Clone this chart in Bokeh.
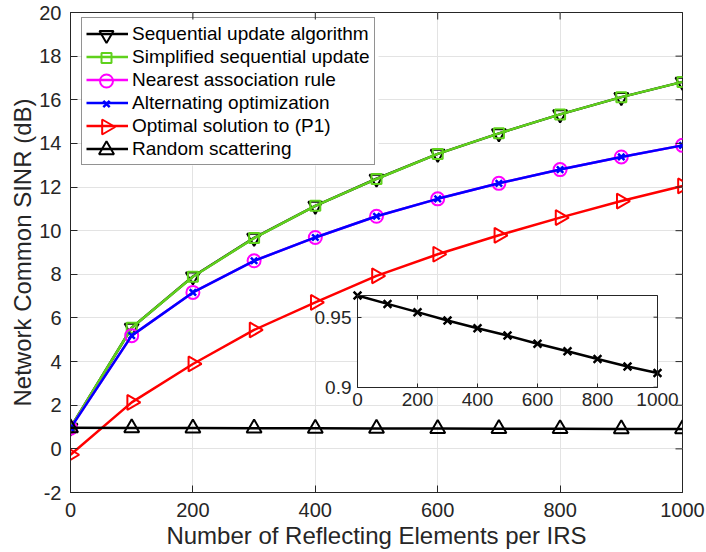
import numpy as np
from bokeh.plotting import figure
from bokeh.models import Range1d, LinearAxis, FixedTicker, Legend, LegendItem
from bokeh.embed import file_html
from bokeh.resources import INLINE

# ---------------- data ----------------
N = [0, 100, 200, 300, 400, 500, 600, 700, 800, 900, 1000]
seq_update = [0.97, 5.55, 7.90, 9.67, 11.14, 12.38, 13.52, 14.46, 15.33, 16.12, 16.82]
simplified_seq = [0.97, 5.55, 7.89, 9.66, 11.14, 12.37, 13.52, 14.46, 15.33, 16.12, 16.82]
nearest_assoc = [0.95, 5.19, 7.17, 8.62, 9.69, 10.66, 11.46, 12.17, 12.80, 13.38, 13.91]
alternating_opt = [0.95, 5.19, 7.17, 8.62, 9.69, 10.66, 11.46, 12.17, 12.80, 13.38, 13.91]
optimal_p1 = [-0.27, 2.13, 3.89, 5.45, 6.71, 7.93, 8.92, 9.79, 10.60, 11.36, 12.05]
random_scatter = [0.9655, 0.9595, 0.9536, 0.9476, 0.9421, 0.9369, 0.9310, 0.9257, 0.9202, 0.9148, 0.9102]

x_ticks = [0, 200, 400, 600, 800, 1000]
y_ticks = [-2, 0, 2, 4, 6, 8, 10, 12, 14, 16, 18, 20]
x_lim = [0, 1000]
y_lim = [-2, 20]
inset_x_ticks = [0, 200, 400, 600, 800, 1000]
inset_y_ticks = [0.9, 0.95]
inset_x_lim = [0, 1000]
inset_y_lim = [0.9, 0.9655]

labels = ["Sequential update algorithm", "Simplified sequential update",
          "Nearest association rule", "Alternating optimization",
          "Optimal solution to (P1)", "Random scattering"]

FONT = "Liberation Sans"
AX = "#262626"
GRID = "#e3e3e3"
GREEN = "#5fd11c"

# series styles: (values, color, marker, size, angle)
styles = [
    (seq_update, "black", "inverted_triangle", 14, 0.0),
    (simplified_seq, GREEN, "square", 10, 0.0),
    (nearest_assoc, "#ff00ff", "circle", 13, 0.0),
    (alternating_opt, "#0000ff", "x", 9, 0.0),
    (optimal_p1, "#ff0000", "triangle", 15, -np.pi / 2),
    (random_scatter, "black", "triangle", 15, 0.0),
]

FW, FH = 612, 480          # frame size in px
TOP, LEFT = 12, 70

# ---------------- figure ----------------
p = figure(width=706, height=552, x_range=Range1d(*x_lim), y_range=Range1d(*y_lim),
           output_backend="svg", toolbar_location=None,
           min_border_left=LEFT, min_border_right=706 - LEFT - FW,
           min_border_top=TOP, min_border_bottom=552 - TOP - FH)
p.background_fill_color = "white"
p.border_fill_color = "white"
p.outline_line_color = AX
p.outline_line_width = 1

xa = p.xaxis[0]
ya = p.yaxis[0]
for ax in (xa, ya):
    ax.major_tick_in = 7
    ax.major_tick_out = 0
    ax.minor_tick_line_color = None
    ax.axis_line_color = AX
    ax.major_tick_line_color = AX
    ax.major_label_text_font = FONT
    ax.major_label_text_font_size = "20px"
    ax.major_label_text_color = AX
    ax.major_label_text_line_height = 1.0
    ax.axis_label_text_font = FONT
    ax.axis_label_text_font_size = "24px"
    ax.axis_label_text_font_style = "normal"
    ax.axis_label_text_color = AX
    ax.axis_label_text_line_height = 1.0
xa.ticker = FixedTicker(ticks=x_ticks)
ya.ticker = FixedTicker(ticks=y_ticks)
ya.major_label_overrides = {t: str(t) for t in y_ticks}
xa.axis_label = "Number of Reflecting Elements per IRS"
ya.axis_label = "Network Common SINR (dB)"
xa.major_label_standoff = 10
xa.axis_label_standoff = 2
ya.major_label_standoff = 9
ya.axis_label_standoff = 0

p.xgrid[0].ticker = FixedTicker(ticks=x_ticks)
p.ygrid[0].ticker = FixedTicker(ticks=y_ticks)
for g in (p.xgrid[0], p.ygrid[0]):
    g.grid_line_color = GRID
    g.grid_line_width = 1

# inward ticks on top and right edges of the main box
tlen_y = 7 * (y_lim[1] - y_lim[0]) / FH
tlen_x = 7 * (x_lim[1] - x_lim[0]) / FW
p.segment(x0=x_ticks, x1=x_ticks, y0=[y_lim[1]] * len(x_ticks), y1=[y_lim[1] - tlen_y] * len(x_ticks),
          line_color=AX, line_width=1, level="guide")
p.segment(x0=[x_lim[1]] * len(y_ticks), x1=[x_lim[1] - tlen_x] * len(y_ticks), y0=y_ticks, y1=y_ticks,
          line_color=AX, line_width=1, level="guide")

# ---------------- extra ranges: inset + frame pixels ----------------
fx0, fx1 = 287 / FW, 587 / FW          # inset box as fraction of frame width
fy0, fy1 = 105.3 / FH, 197 / FH        # inset box as fraction of frame height
sx = (inset_x_lim[1] - inset_x_lim[0]) / (fx1 - fx0)
sy = (inset_y_lim[1] - inset_y_lim[0]) / (fy1 - fy0)
ix0 = inset_x_lim[0] - fx0 * sx
iy0 = inset_y_lim[0] - fy0 * sy
p.extra_x_ranges = {"ix": Range1d(ix0, ix0 + sx), "px": Range1d(0, FW)}
p.extra_y_ranges = {"iy": Range1d(iy0, iy0 + sy), "py": Range1d(0, FH)}

# ---------------- legend background (drawn before markers) ----------------
PAD, ROW, GW, LX, LT, LW_BOX = 4, 23, 42, 11, 7, 297
leg_h = 2 * PAD + len(labels) * ROW
p.quad(left=[LX], right=[LX + LW_BOX], bottom=[FH - LT - leg_h], top=[FH - LT],
       x_range_name="px", y_range_name="py", fill_color="white", line_color=None)

# ---------------- main series ----------------
LW = 2.5
line_rs = []
for vals, col, mk, sz, ang in styles:
    lr = p.line(N, vals, line_color=col, line_width=LW)
    if mk == "x":
        p.scatter(N, vals, marker=mk, size=sz, line_color=col, line_width=2.5)
    else:
        p.scatter(N, vals, marker=mk, size=sz, angle=ang, fill_color=None,
                  line_color=col, line_width=2)
    line_rs.append(lr)

# legend markers placed in the legend glyph slots (frame-pixel coordinates)
mx = [LX + PAD + GW / 2] * len(labels)
my = [FH - LT - PAD - ROW * (i + 0.5) for i in range(len(labels))]
for (vals, col, mk, sz, ang), x_, y_ in zip(styles, mx, my):
    if mk == "x":
        p.scatter([x_], [y_], marker=mk, size=sz, line_color=col, line_width=2.5,
                  x_range_name="px", y_range_name="py")
    else:
        p.scatter([x_], [y_], marker=mk, size=sz, angle=ang, fill_color=None, line_color=col,
                  line_width=2, x_range_name="px", y_range_name="py")

# ---------------- inset ----------------
p.quad(left=[inset_x_lim[0]], right=[inset_x_lim[1]], bottom=[inset_y_lim[0]], top=[inset_y_lim[1]],
       x_range_name="ix", y_range_name="iy", fill_color="white", line_color=None)
gx = inset_x_ticks[1:-1]
p.segment(x0=gx, x1=gx, y0=[inset_y_lim[0]] * len(gx), y1=[inset_y_lim[1]] * len(gx),
          x_range_name="ix", y_range_name="iy", line_color=GRID, line_width=1)
gy = [t for t in inset_y_ticks if inset_y_lim[0] < t < inset_y_lim[1]]
p.segment(x0=[inset_x_lim[0]] * len(gy), x1=[inset_x_lim[1]] * len(gy), y0=gy, y1=gy,
          x_range_name="ix", y_range_name="iy", line_color=GRID, line_width=1)
p.line(N, random_scatter, x_range_name="ix", y_range_name="iy", line_color="black", line_width=LW)
p.scatter(N, random_scatter, x_range_name="ix", y_range_name="iy", marker="x", size=11,
          line_color="black", line_width=2.5)

# inset top/right inward ticks
itl_y = 4 * sy / FH
itl_x = 4 * sx / FW
p.segment(x0=inset_x_ticks, x1=inset_x_ticks, y0=[inset_y_lim[1]] * len(inset_x_ticks),
          y1=[inset_y_lim[1] - itl_y] * len(inset_x_ticks), x_range_name="ix", y_range_name="iy",
          line_color=AX, line_width=1, level="guide")
p.segment(x0=[inset_x_lim[1]] * len(inset_y_ticks), x1=[inset_x_lim[1] - itl_x] * len(inset_y_ticks),
          y0=inset_y_ticks, y1=inset_y_ticks, x_range_name="ix", y_range_name="iy",
          line_color=AX, line_width=1, level="guide")

def inset_axis(loc, bounds, ticks, overrides=None):
    a = LinearAxis(x_range_name="ix", y_range_name="iy", fixed_location=loc, bounds=bounds,
                   ticker=FixedTicker(ticks=ticks), major_tick_in=4, major_tick_out=0,
                   minor_tick_line_color=None, axis_line_color=AX, major_tick_line_color=AX,
                   major_label_text_font=FONT, major_label_text_color=AX,
                   major_label_text_font_size="19px", major_label_standoff=6)
    if overrides:
        a.major_label_overrides = overrides
    return a

p.add_layout(inset_axis(inset_y_lim[0], tuple(inset_x_lim), inset_x_ticks), "below")
p.add_layout(inset_axis(inset_y_lim[1], tuple(inset_x_lim), []), "above")
p.add_layout(inset_axis(inset_x_lim[0], tuple(inset_y_lim), inset_y_ticks,
                        {0.9: "0.9", 0.95: "0.95"}), "left")
p.add_layout(inset_axis(inset_x_lim[1], tuple(inset_y_lim), []), "right")

# ---------------- legend ----------------
items = [LegendItem(label=lab, renderers=[l]) for lab, l in zip(labels, line_rs)]
legend = Legend(items=items, location=(LX, FH - LT - leg_h),
                glyph_width=GW, glyph_height=ROW, label_height=ROW, spacing=0,
                padding=PAD, margin=0, label_standoff=4,
                label_text_font=FONT, label_text_font_size="19px", label_text_color="black",
                border_line_color=AX, border_line_width=1,
                background_fill_color=None, background_fill_alpha=0.0)
p.add_layout(legend)

open("out.html", "w").write(file_html(p, INLINE))
